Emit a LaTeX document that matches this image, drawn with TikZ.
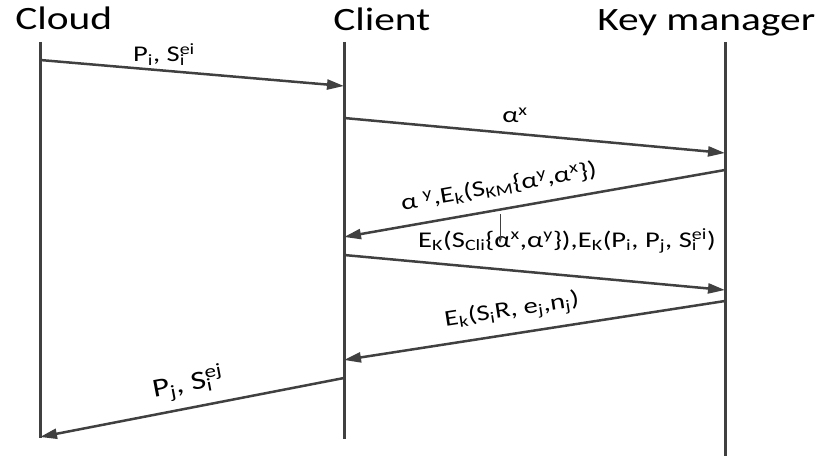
\documentclass[tikz,border=0pt]{standalone}
\usepackage{fontspec}
\setmainfont{Carlito}
\usetikzlibrary{arrows.meta}
\definecolor{ln}{HTML}{404040}
\newcommand\hi[1]{\textsuperscript{#1}}
\newcommand\lo[1]{\textsubscript{#1}}
\newcommand\lohi[2]{\rlap{\textsubscript{#1}}\textsuperscript{#2}}
\begin{document}
\begin{tikzpicture}[x=1pt,y=-1pt,
  life/.style={draw=ln, line width=3pt},
  msg/.style={draw=ln, line width=2.5pt, -{Triangle[length=17pt,width=10pt]}},
  thin/.style={draw=ln, line width=0.8pt, -{Stealth[length=6pt,width=4pt]}},
  head/.style={anchor=base west, inner sep=0, xscale=1.27, font=\fontsize{32.6}{36}\selectfont},
  lab/.style={inner sep=0, font=\fontsize{22.5}{26}\selectfont},
  bigl/.style={inner sep=0, font=\fontsize{26}{30}\selectfont}]
\useasboundingbox (0,0) rectangle (826,457);
% headers
\node[head] (hcloud) at (15,30) {Cloud};
\node[head] (hclient) at (333,31) {Client};
\node[head] (hkm) at (597,31) {Key manager};
% lifelines
\coordinate (cloudT) at (40,42);  \coordinate (cloudB) at (40,438);
\coordinate (cliT) at (344,42);   \coordinate (cliB) at (344,439);
\coordinate (kmT) at (725,42);    \coordinate (kmB) at (725,456);
\draw[life] (cloudT) -- (cloudB);
\draw[life] (cliT) -- (cliB);
\draw[life] (kmT) -- (kmB);
% message end points
\coordinate (a1) at (40,60);   \coordinate (b1) at (344,86);
\coordinate (a2) at (344,118); \coordinate (b2) at (725,153);
\coordinate (a3) at (725,170); \coordinate (b3) at (344,237);
\coordinate (a4) at (344,255); \coordinate (b4) at (725,290);
\coordinate (a5) at (725,301); \coordinate (b5) at (344,360);
\coordinate (a6) at (344,378); \coordinate (b6) at (40,437);
% messages
\draw[msg] (a1) -- (b1);
\node[lab, anchor=base, xscale=1.27] (l1) at (164,62) {P\lo{i}, S\lohi{i}{ei}};
\draw[msg] (a2) -- (b2);
\node[lab, anchor=base, xscale=1.27] (l2) at (515,123) {α\hi{x}};
\draw[msg] (a3) -- (b3);
\node[lab, rotate=10, xscale=1.27] (l3) at (499,187) {α \hi{y},E\lo{k}(S\lo{KM}\{α\hi{y},α\hi{x}\})};
\node[lab, anchor=base, xscale=1.27] (l4) at (567,247) {E\lo{K}(S\lo{Cli}\{α\hi{x},α\hi{y}\}),E\lo{K}(P\lo{i}, P\lo{j}, S\lohi{i}{ei})};
\draw[msg] (a4) -- (b4);
\draw[msg] (a5) -- (b5);
\node[lab, rotate=8.8, xscale=1.27] (l5) at (512,311) {E\lo{k}(S\lo{i}R, e\lo{j},n\lo{j})};
\draw[msg] (a6) -- (b6);
\node[bigl, rotate=10.8, xscale=1.27] (l6) at (188,384) {P\lo{j}, S\lohi{i}{ej}};
% small pointer
\coordinate (p1) at (500,214); \coordinate (p2) at (500,243);
\draw[thin] (p1) -- (p2);
\end{tikzpicture}
\end{document}
